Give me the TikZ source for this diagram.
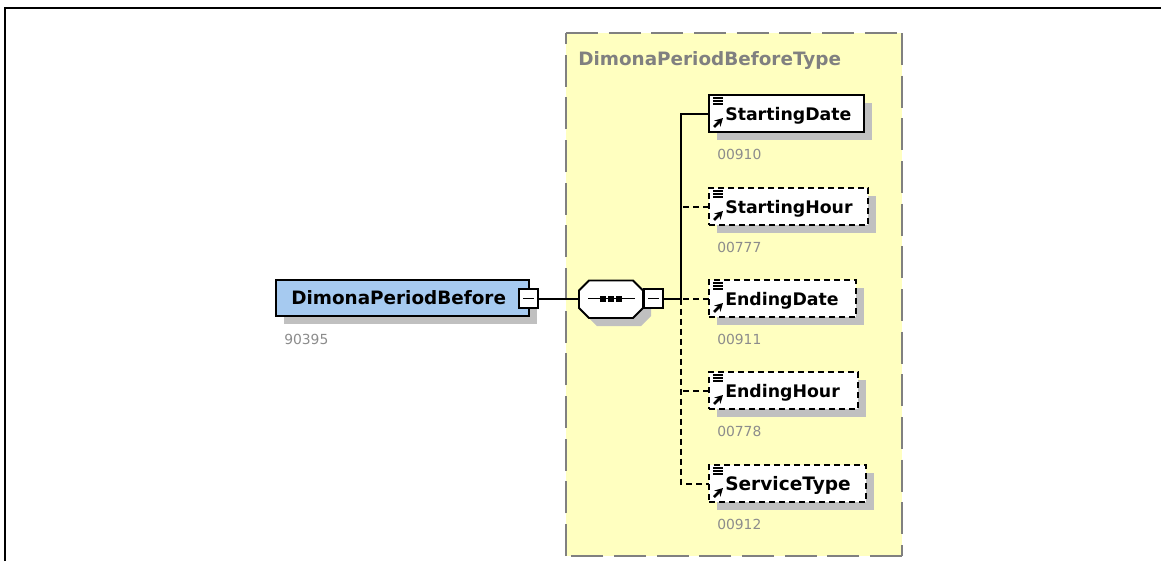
\documentclass[tikz,border=0pt]{standalone}
\usepackage{fontspec}
\setmainfont{DejaVu Sans}
\usetikzlibrary{arrows.meta,shapes.geometric}
\definecolor{boxyellow}{RGB}{255,255,192}
\definecolor{headblue}{RGB}{166,202,240}
\definecolor{shadowgray}{RGB}{192,192,192}
\definecolor{dashgray}{RGB}{128,128,128}
\definecolor{numgray}{RGB}{140,140,140}
\tikzset{
  x=0.75pt,y=-0.75pt,
  boxline/.style={draw=black,line width=1.5pt,inner sep=0pt,outer sep=0pt},
  dashline/.style={draw=black,line width=1.5pt,dash pattern=on 4.5pt off 3pt,inner sep=0pt,outer sep=0pt},
  conn/.style={draw=black,line width=1.5pt},
  dconn/.style={draw=black,line width=1.5pt,dash pattern=on 4.5pt off 3pt},
  title/.style={font=\bfseries\fontsize{13pt}{15pt}\selectfont,anchor=base west,inner sep=0pt},
  bigtitle/.style={title,font=\bfseries\fontsize{13.8pt}{15pt}\selectfont},
  num/.style={font=\fontsize{10.4pt}{12pt}\selectfont,text=numgray,anchor=base west,inner sep=0pt},
  toggle/.style={draw=black,fill=white,line width=1.2pt,minimum width=14pt,minimum height=14pt,inner sep=0pt,outer sep=0pt},
}
% #1 name, #2 y top, #3 right x, #4 text, #5 number, #6 style
\newcommand{\elembox}[6]{%
  \fill[shadowgray] (717,#2+8) rectangle (#3+8,#2+45);
  \node[#6,fill=white,anchor=north west,minimum width={(#3-709)*0.75pt},minimum height=27.75pt] (#1) at (709,#2) {};
  \foreach \dy in {3,6,9}{\draw[black,line width=.9pt] (713,#2+\dy) -- (723,#2+\dy);}
  \draw[black,line width=2pt,-{Stealth[length=6pt,width=6.5pt]}] (714,#2+32) -- (723,#2+23);
  \node[title] (#1t) at (725,#2+25) {#4};
  \node[num] (#1n) at (717,#2+64) {#5};
}
\begin{document}
\begin{tikzpicture}
\useasboundingbox (0,0) rectangle (1161,561);
% outer frame
\draw[black,line width=1.5pt] (5,561) -- (5,7.5) -- (1161,7.5);
% type box
\fill[boxyellow] (566,33) rectangle (902,556);
\draw[dashgray,line width=1.5pt,dash pattern=on 24pt off 8pt] (566,33) -- (902,33);
\draw[dashgray,line width=1.5pt,dash pattern=on 24pt off 8pt] (902,33) -- (902,556);
\draw[dashgray,line width=1.5pt,dash pattern=on 24pt off 8pt] (902,556) -- (566,556);
\draw[dashgray,line width=1.5pt,dash pattern=on 24pt off 8pt] (566,556) -- (566,33);
\node[bigtitle,text=dashgray] (typetitle) at (578,65) {DimonaPeriodBeforeType};
% root element
\fill[shadowgray] (284,288) rectangle (537,324);
\node[boxline,fill=headblue,anchor=north west,minimum width=189.75pt,minimum height=27pt] (root) at (276,280) {};
\node[bigtitle] (roott) at (291,304) {DimonaPeriodBefore};
\node[num] (rootn) at (284,344) {90395};
\node[toggle] (roottoggle) at (528.5,298.5) {};
\draw[black,line width=1.1pt] (523,298.5) -- (534,298.5);
% sequence
\fill[shadowgray] (597,288) -- (643,288) -- (651,296) -- (651,316) -- (641,326) -- (597,326) -- (587,316) -- (587,296) -- cycle;
\draw[black,line width=1.4pt,fill=white] (589,280.5) -- (633,280.5) -- (643,290.5) -- (643,308) -- (633,318) -- (589,318) -- (579,308) -- (579,290.5) -- cycle;
\coordinate (seqw) at (579,298.5);
\draw[black,line width=1.1pt] (588,298.5) -- (635,298.5);
\foreach \sx in {603,611,619}{\fill[black] (\sx-3,295.5) rectangle (\sx+3,301.5);}
\node[toggle] (seqtoggle) at (653.5,298.5) {};
\draw[black,line width=1.1pt] (648,298.5) -- (659,298.5);
\draw[conn] (roottoggle.east) -- (seqw);
% children
\elembox{sd}{95}{864}{StartingDate}{00910}{boxline}
\elembox{sh}{188}{868}{StartingHour}{00777}{dashline}
\elembox{ed}{280}{856}{EndingDate}{00911}{dashline}
\elembox{eh}{372}{858}{EndingHour}{00778}{dashline}
\elembox{st}{465}{866}{\fontsize{13.9pt}{15pt}\selectfont ServiceType}{00912}{dashline}
% connectors
\coordinate (bus) at (681,298.5);
\draw[conn] (seqtoggle.east) -- (bus);
\draw[conn] (bus) |- (sd.west);
\draw[dconn] (bus) |- (st.west);
\draw[dconn] (sh.west) -- (sh.west -| bus);
\draw[dconn] (ed.west) -- (ed.west -| bus);
\draw[dconn] (eh.west) -- (eh.west -| bus);
\end{tikzpicture}
\end{document}
